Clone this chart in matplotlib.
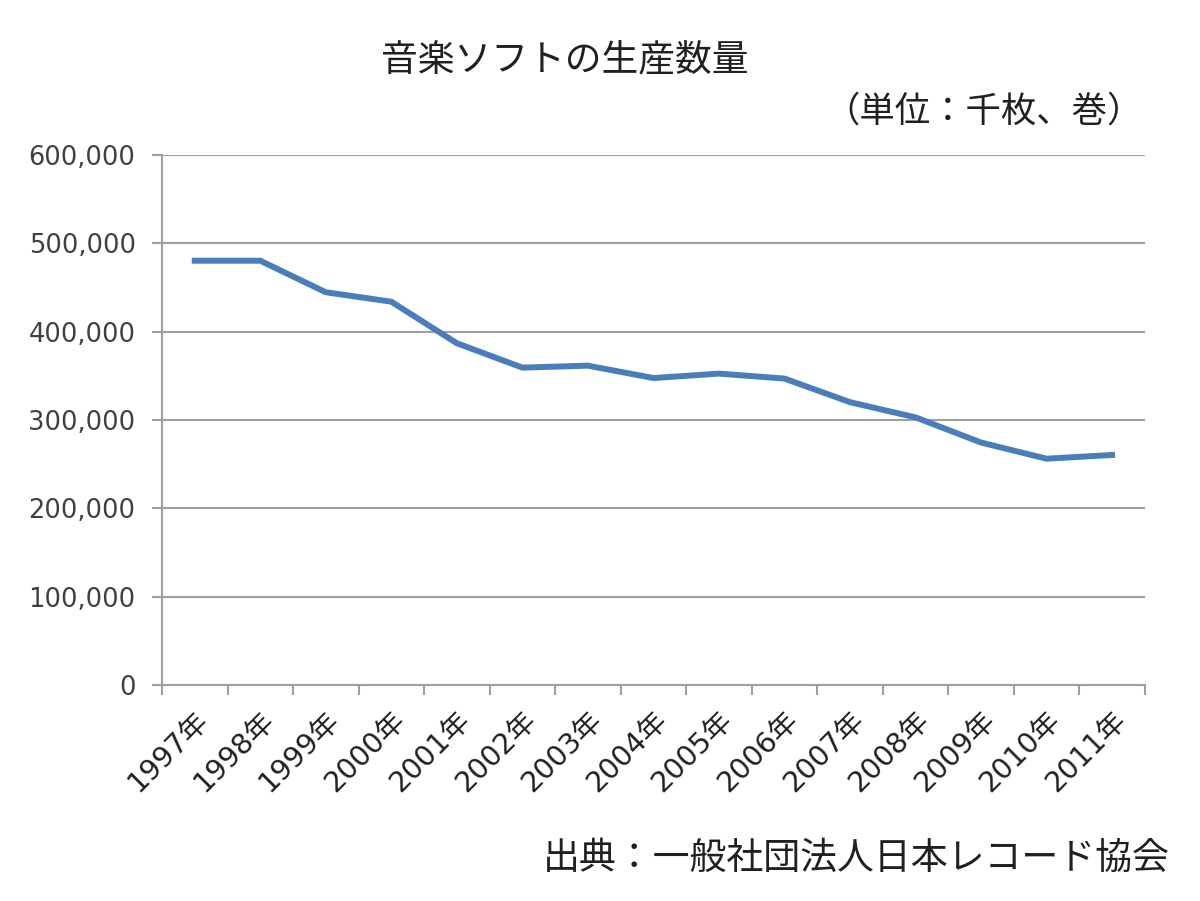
import matplotlib
matplotlib.use("Agg")
import matplotlib.pyplot as plt
from matplotlib.ticker import FuncFormatter
import numpy as np

# digits from DejaVu (wide, like the original), kana/kanji from Noto CJK
plt.rcParams['font.family'] = ['DejaVu Sans', 'Noto Sans CJK JP']

years = ["1997年", "1998年", "1999年", "2000年", "2001年", "2002年", "2003年", "2004年",
         "2005年", "2006年", "2007年", "2008年", "2009年", "2010年", "2011年"]
production = [480300, 480300, 444600, 433900, 386900, 359300, 361500, 347500,
              352500, 346900, 320200, 303000, 274500, 256200, 260400]
y_ticks = [0, 100000, 200000, 300000, 400000, 500000, 600000]

title = "音楽ソフトの生産数量"
unit = "（単位：千枚、巻）"
source = "出典：一般社団法人日本レコード協会"

grid_color = "#a0a0a0"
text_color = "#404040"

fig = plt.figure(figsize=(12, 9.01), dpi=100)
ax = fig.add_axes([0.135, 0.2397, 0.819, 0.5883])

x = np.arange(len(years))
ax.plot(x, production, color="#4a7ebb", lw=4.3, solid_joinstyle="round", zorder=3)

ax.set_xlim(-0.5, len(years) - 0.5)
ax.set_ylim(0, 600000)
ax.set_yticks(y_ticks)
ax.yaxis.set_major_formatter(FuncFormatter(lambda v, p: f"{int(v):,}"))
ax.grid(axis="y", color=grid_color, lw=1.5, zorder=0)

# category labels in the middle, tick marks between categories
ax.set_xticks(x)
ax.set_xticklabels(years, rotation=45, ha="right", rotation_mode="anchor")
ax.set_xticks(np.arange(len(years) + 1) - 0.5, minor=True)
ax.tick_params(axis="x", which="major", length=0, pad=15, labelsize=20.5, labelcolor="#202020")
ax.tick_params(axis="x", which="minor", length=7, width=1.5, color=grid_color)
ax.tick_params(axis="y", length=7, width=1.5, color=grid_color, pad=12,
               labelsize=18.5, labelcolor=text_color)

for s in ["top", "right"]:
    ax.spines[s].set_visible(False)
for s in ["left", "bottom"]:
    ax.spines[s].set_color(grid_color)
    ax.spines[s].set_linewidth(1.5)

fig.text(565 / 1200, 1 - 60 / 901, title, ha="center", va="center", fontsize=26.5, color="#202020")
fig.text(1143 / 1200, 1 - 112 / 901, unit, ha="right", va="center", fontsize=25.5, color="#202020")
fig.text(1170 / 1200, 1 - 858 / 901, source, ha="right", va="center", fontsize=26.6, color="#202020")

fig.savefig("out.png", dpi=100)
